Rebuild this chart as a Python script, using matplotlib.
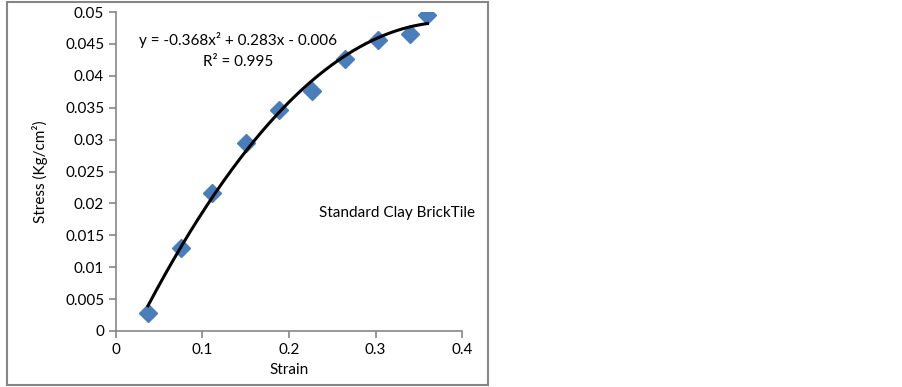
import matplotlib.pyplot as plt
from matplotlib.patches import Rectangle
import numpy as np

plt.rcParams['font.family'] = ['Lato', 'DejaVu Sans']

# measured points
strain = [0.037, 0.075, 0.111, 0.150, 0.189, 0.227, 0.265, 0.303, 0.340, 0.360]
stress = [0.0028, 0.0130, 0.0216, 0.0295, 0.0346, 0.0376, 0.0426, 0.0456, 0.0466, 0.0495]

# polynomial trendline (order 2)
trend_coef = [-0.368, 0.283, -0.006]

xticks = [0, 0.1, 0.2, 0.3, 0.4]
yticks = [0, 0.005, 0.01, 0.015, 0.02, 0.025, 0.03, 0.035, 0.04, 0.045, 0.05]
ytick_labels = ['0', '0.005', '0.01', '0.015', '0.02', '0.025', '0.03', '0.035', '0.04', '0.045', '0.05']
xtick_labels = ['0', '0.1', '0.2', '0.3', '0.4']

fig = plt.figure(figsize=(9.03, 3.87), dpi=100)
ax = fig.add_axes([116 / 903, 1 - 331 / 387, (462 - 116) / 903, (331 - 12) / 387])

grey = '#868686'

# outer chart border
fig.patches.append(Rectangle((7 / 903, 2 / 387), (488 - 7) / 903, (385 - 2) / 387,
                             transform=fig.transFigure, fill=False, edgecolor=grey, linewidth=1.5))

ax.plot(strain, stress, linestyle='none', marker='D', markersize=9,
        color='#4A7EBB', markeredgecolor='#4A7EBB', zorder=2)

xs = np.linspace(strain[0], strain[-1], 200)
ax.plot(xs, np.polyval(trend_coef, xs), color='black', linewidth=2.2, zorder=3)

ax.set_xlim(0, 0.4)
ax.set_ylim(0, 0.05)
ax.set_xticks(xticks)
ax.set_xticklabels(xtick_labels)
ax.set_yticks(yticks)
ax.set_yticklabels(ytick_labels)

for side in ['top', 'right']:
    ax.spines[side].set_visible(False)
for side in ['left', 'bottom']:
    ax.spines[side].set_color(grey)
    ax.spines[side].set_linewidth(1.2)
ax.tick_params(axis='both', direction='out', length=5, width=1.2, color=grey,
               labelsize=11, labelcolor='black')
ax.tick_params(axis='x', pad=4)

ax.set_xlabel('Strain', fontsize=11, labelpad=4)
ax.set_ylabel('Stress (Kg/cm²)', fontsize=11, labelpad=12)

ax.text(0.1416, 0.0456, 'y = -0.368x² + 0.283x - 0.006', ha='center', va='center', fontsize=11)
ax.text(0.1416, 0.0422, 'R² = 0.995', ha='center', va='center', fontsize=11)
ax.text(0.325, 0.0185, 'Standard Clay BrickTile', ha='center', va='center', fontsize=11)

fig.savefig('out.png', dpi=100)
